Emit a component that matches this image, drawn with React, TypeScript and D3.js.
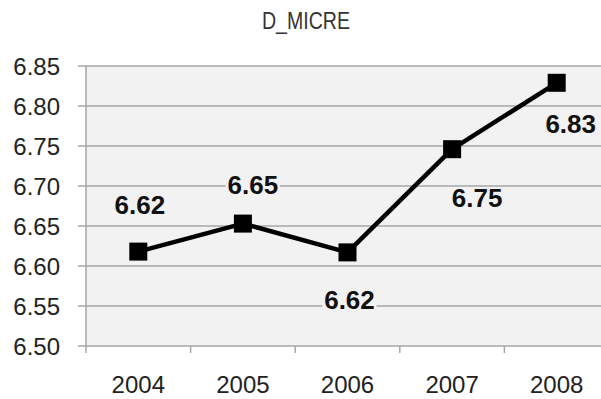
import React from "react";
import * as d3 from "d3";

const title = "D_MICRE";
const years = ["2004", "2005", "2006", "2007", "2008"];
const values = [6.618, 6.653, 6.617, 6.746, 6.829];
const valueLabels = ["6.62", "6.65", "6.62", "6.75", "6.83"];
const yTicks = [6.5, 6.55, 6.6, 6.65, 6.7, 6.75, 6.8, 6.85];
// label placement offsets relative to marker (dx, baseline dy)
const labelDx = [1.5, 10, 2, 25, 14];
const labelDy = [-38, -29.5, 56.5, 58, 50];

const W = 601;
const H = 399;
const margin = { left: 86, top: 66, right: -8, bottom: 53 };

export default function App() {
  const x = d3
    .scaleBand<string>()
    .domain(years)
    .range([margin.left, W - margin.right])
    .padding(0);
  const y = d3
    .scaleLinear()
    .domain([6.5, 6.85])
    .range([H - margin.bottom, margin.top]);

  const cx = (i: number) => (x(years[i]) as number) + x.bandwidth() / 2;
  const line = d3
    .line<number>()
    .x((_, i) => cx(i))
    .y((d) => y(d));

  const plotTop = y(6.85);
  const plotBottom = y(6.5);
  const gridColor = "#a6a6a6";
  const marker = 18;

  return (
    <div style={{ position: "fixed", left: 0, top: 0 }}>
      <svg width={W} height={H} style={{ display: "block", background: "#fff" }}>
        <text
          x={306}
          y={29}
          textAnchor="middle"
          fontFamily="Liberation Sans, Arial, sans-serif"
          fontSize={23}
          textLength={88}
          lengthAdjust="spacingAndGlyphs"
          fill="#333"
        >
          {title}
        </text>
        <rect
          x={margin.left}
          y={plotTop}
          width={W - margin.right - margin.left}
          height={plotBottom - plotTop}
          fill="#f2f2f2"
        />
        {yTicks.map((t) => (
          <g key={t}>
            <line
              x1={margin.left - 8}
              x2={W - margin.right}
              y1={y(t)}
              y2={y(t)}
              stroke={gridColor}
              strokeWidth={1.5}
            />
            <text
              x={60}
              y={y(t)}
              textAnchor="end"
              dominantBaseline="central"
              fontFamily="Liberation Sans, Arial, sans-serif"
              fontSize={24}
              fill="#222"
            >
              {t.toFixed(2)}
            </text>
          </g>
        ))}
        <line
          x1={margin.left}
          x2={margin.left}
          y1={plotTop}
          y2={plotBottom}
          stroke={gridColor}
          strokeWidth={1.5}
        />
        {years.map((yr) => (
          <line
            key={"t" + yr}
            x1={x(yr) as number}
            x2={x(yr) as number}
            y1={plotBottom}
            y2={plotBottom + 7}
            stroke={gridColor}
            strokeWidth={1.5}
          />
        ))}
        {years.map((yr, i) => (
          <text
            key={"l" + yr}
            x={cx(i)}
            y={393}
            textAnchor="middle"
            fontFamily="Liberation Sans, Arial, sans-serif"
            fontSize={24}
            fill="#222"
          >
            {yr}
          </text>
        ))}
        <path
          d={line(values) || ""}
          fill="none"
          stroke="#000"
          strokeWidth={4.5}
          strokeLinejoin="round"
        />
        {values.map((v, i) => (
          <rect
            key={"m" + i}
            x={cx(i) - marker / 2}
            y={y(v) - marker / 2}
            width={marker}
            height={marker}
            fill="#000"
          />
        ))}
        {values.map((v, i) => {
          const lx = cx(i) + labelDx[i];
          const ly = y(v) + labelDy[i];
          return (
            <g key={"v" + i}>
              <rect x={lx - 27} y={ly - 20} width={54} height={22} fill="#f2f2f2" />
              <text
                x={lx}
                y={ly}
                textAnchor="middle"
                fontFamily="Liberation Sans, Arial, sans-serif"
                fontWeight="bold"
                fontSize={26}
                fill="#111"
              >
                {valueLabels[i]}
              </text>
            </g>
          );
        })}
      </svg>
    </div>
  );
}
